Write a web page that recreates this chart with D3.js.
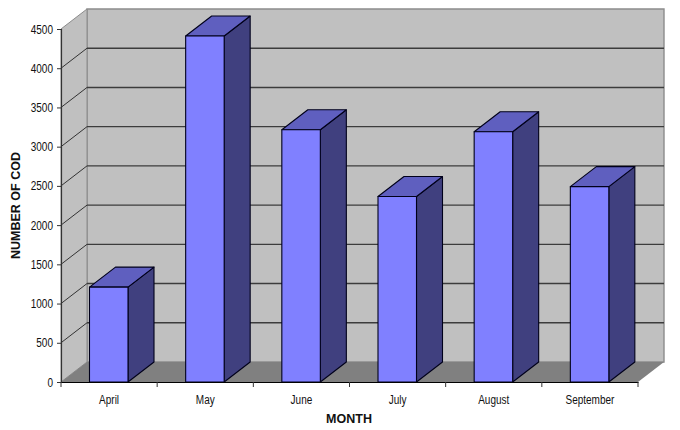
<!DOCTYPE html>
<html><head><meta charset="utf-8">
<script src="https://cdn.jsdelivr.net/npm/d3@7"></script>
<style>html,body{margin:0;padding:0;background:#fff}svg{display:block}
text{font-family:"Liberation Sans",Arial,sans-serif;fill:#111}</style>
</head><body><svg id="c" width="680" height="430"></svg>
<script>
const months = ["April","May","June","July","August","September"];
const cod = [1210,4410,3215,2365,3190,2490];
const yTicks = [0,500,1000,1500,2000,2500,3000,3500,4000,4500];
const svg = d3.select("#c");
const x = d3.scaleBand().domain(months).range([61,638]).padding(0);
const y = d3.scaleLinear().domain([0,4500]).range([382,29]);
const dx = 26, dy = -20;
const pts = p => p.map(q=>q.join(",")).join(" ");
const L = 61, R = 638, B = y(0), T = y(4500);
// walls
svg.append("polygon").attr("points",pts([[L+dx,T+dy],[R+dx,T+dy],[R+dx,B+dy],[L+dx,B+dy]]))
  .attr("fill","#c0c0c0").attr("stroke","#8c8c8c").attr("stroke-width",1.4);
svg.append("polygon").attr("points",pts([[L,T],[L+dx,T+dy],[L+dx,B+dy],[L,B]]))
  .attr("fill","#c0c0c0").attr("stroke","#8c8c8c").attr("stroke-width",1);
svg.append("polygon").attr("points",pts([[L,B],[L+dx,B+dy],[R+dx,B+dy],[R,B]]))
  .attr("fill","#808080");
// gridlines
const g = svg.append("g");
yTicks.filter(d=>d>0&&d<4500).forEach(d=>{
  g.append("line").attr("x1",L+dx).attr("x2",R+dx).attr("y1",y(d)+dy).attr("y2",y(d)+dy)
    .attr("stroke","#3c3c3c").attr("stroke-width",1.4);
  g.append("line").attr("x1",L).attr("x2",L+dx).attr("y1",y(d)).attr("y2",y(d)+dy)
    .attr("stroke","#333").attr("stroke-width",1);
});
// bars
const bw = 38.5, off = 28.5;
const bars = svg.append("g").selectAll("g").data(months).join("g");
const stroke = {stroke:"#00001a","stroke-width":1.1,"stroke-linejoin":"round"};
function st(s){Object.entries(stroke).forEach(([k,v])=>s.attr(k,v));return s}
bars.each(function(m,i){
  const s=d3.select(this), a=x(m)+off, b=a+bw, t=y(cod[i]);
  st(s.append("polygon").attr("points",pts([[b,B],[b+dx,B+dy],[b+dx,t+dy],[b,t]])).attr("fill","#40407f"));
  st(s.append("polygon").attr("points",pts([[a,t],[a+dx,t+dy],[b+dx,t+dy],[b,t]])).attr("fill","#5f5fbf"));
  st(s.append("rect").attr("x",a).attr("y",t).attr("width",bw).attr("height",B-t).attr("fill","#8080ff"));
});
// narrow the tick labels as in the reference
function narrow(sel,k){sel.each(function(){
  const w=this.getComputedTextLength();
  d3.select(this).attr("textLength",w*k).attr("lengthAdjust","spacingAndGlyphs");
});}
// axes
const ya = svg.append("g").attr("transform",`translate(${L},0)`)
  .call(d3.axisLeft(y).tickValues(yTicks).tickFormat(d3.format("d")).tickSize(4).tickPadding(4));
ya.selectAll("text").attr("font-size",12.5).attr("fill","#111").call(narrow,0.8);
ya.select(".domain").attr("stroke","#333").attr("stroke-width",1.2);
ya.selectAll("line").attr("stroke","#333");
const xa = svg.append("g").attr("transform",`translate(0,${B})`)
  .call(d3.axisBottom(x).tickSize(0).tickPadding(13));
xa.selectAll("text").attr("font-size",12.5).attr("fill","#111").call(narrow,0.8);
xa.select(".domain").attr("stroke","#000").attr("stroke-width",1.2);
svg.append("g").attr("transform",`translate(0,${B})`)
  .selectAll("line").data(months.map(m=>x(m)).concat([R])).join("line")
  .attr("x1",d=>d).attr("x2",d=>d).attr("y1",0).attr("y2",5).attr("stroke","#333");
// titles
svg.append("text").attr("x",349).attr("y",423).attr("text-anchor","middle")
  .attr("font-size",12.5).attr("font-weight","bold").text("MONTH");
svg.append("text").attr("transform","translate(19.5,205.5) rotate(-90)").attr("text-anchor","middle")
  .attr("font-size",12.5).attr("font-weight","bold").text("NUMBER OF COD");
</script></body></html>
